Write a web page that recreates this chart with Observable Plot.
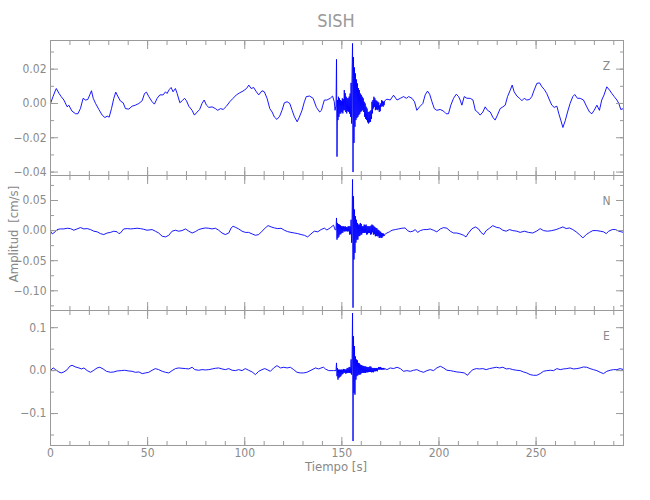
<!DOCTYPE html>
<html><head><meta charset="utf-8">
<script src="https://cdn.jsdelivr.net/npm/d3@7"></script>
<script src="https://cdn.jsdelivr.net/npm/@observablehq/plot@0.6"></script>
<style>
body{margin:0;background:#fff;}
#chart{position:relative;width:650px;height:500px;font-family:"Liberation Sans Narrow","DejaVu Sans Condensed","Liberation Sans",sans-serif;color:#888;overflow:hidden;}
#chart svg{position:absolute;left:0;overflow:visible;background:transparent;}
.lbl{position:absolute;white-space:nowrap;line-height:1;color:#888;}
</style></head><body><div id="chart"></div>
<script>
// ---------- data ----------
const title = "SISH";
const xLabel = "Tiempo [s]";
const yLabel = "Amplitud [cm/s]";
const channels = ["Z", "N", "E"];
const xMajor = [0, 50, 100, 150, 200, 250];
const xMinor = [0,10,20,30,40,50,60,70,80,90,100,110,120,130,140,150,160,170,180,190,200,210,220,230,240,250,260,270,280,290];

const zMajor = [-0.04, -0.02, 0, 0.02];
const zMinor = [-0.04, -0.03, -0.02, -0.01, 0, 0.01, 0.02, 0.03];
const nMajor = [-0.10, -0.05, 0, 0.05];
const nMinor = [-0.125, -0.10, -0.075, -0.05, -0.025, 0, 0.025, 0.05, 0.075];
const eMajor = [-0.1, 0, 0.1];
const eMinor = [-0.15, -0.1, -0.05, 0, 0.05, 0.1];

// quiet parts of each trace: [time s, amplitude cm/s]
const zQuiet = [[0,0],[1.3,0.004],[2.6,0.0078],[3.0,0.0087],[4.3,0.006],[5.5,0.004],[6.9,0.002],[8.6,-0.002],[9.4,-0.001],[11.1,-0.0045],[12.9,-0.006],[14.1,-0.006],[15.4,-0.003],[16.8,0.003],[18.0,0.002],[19.2,0.0023],[20.2,0.005],[21.1,0.0074],[22.0,0.003],[23.2,0],[24.9,-0.0035],[26.6,-0.0068],[28.0,-0.0082],[29.2,-0.0074],[30.2,-0.008],[31.4,-0.003],[32.6,0.003],[33.6,0.0066],[34.6,0.0043],[36.0,0.0014],[37.4,0.0004],[38.6,-0.003],[40.3,-0.0033],[42.0,-0.0016],[43.7,-0.001],[45.5,0],[47.2,0.0016],[48.4,0.0058],[49.4,0.0066],[50.6,0.004],[52.3,0.001],[53.5,-0.0004],[54.9,0.003],[56.3,0.005],[58.0,0.005],[59.2,0.0068],[60.0,0.0058],[61.2,0.0082],[62.1,0.0093],[63.1,0.0068],[64.3,0.0087],[65.2,0.0058],[66.6,0.0004],[67.8,0.0016],[69.0,0.003],[70.0,0.0016],[71.2,-0.0016],[72.9,-0.004],[74.1,-0.0068],[75.5,-0.005],[76.8,-0.0035],[78.0,0],[79.1,0.002],[80.3,-0.001],[81.5,-0.0023],[83.2,-0.002],[84.9,-0.003],[86.1,-0.004],[87.5,-0.003],[88.9,-0.0035],[90.6,-0.0016],[92.3,0.001],[94.0,0.003],[95.7,0.005],[97.4,0.0062],[99.1,0.0072],[100.9,0.0087],[102.1,0.0107],[103.3,0.0087],[104.6,0.0093],[106.0,0.0068],[107.2,0.005],[108.9,0.0074],[110.1,0.0068],[111.5,0.003],[112.9,-0.003],[114.1,-0.005],[115.3,-0.008],[116.6,-0.0093],[118.0,-0.0074],[119.2,-0.004],[120.4,0.0004],[121.8,0.001],[123.2,0],[124.4,-0.004],[125.6,-0.0078],[127.0,-0.0107],[128.1,-0.008],[129.5,-0.004],[130.7,0.001],[131.7,0.004],[133.4,0.0043],[135.2,0.003],[136.9,-0.0023],[138.6,-0.005],[139.5,-0.004],[140.2,-0.001],[141.0,0.002],[142.3,0.002],[144.0,0.003],[145.2,0.0043],[146.1,0.001],[146.5,-0.004],[146.8,-0.002],
[173.2,0.0025],[174.9,0.002],[176.6,0.0048],[178.4,0.002],[180.1,0.003],[181.8,0.004],[183.2,0.003],[184.4,0.004],[186.1,0.003],[187.4,0.001],[188.6,-0.004],[190.0,-0.002],[191.7,0],[192.9,0.005],[194.1,0.0072],[195.2,0.0054],[196.4,0.001],[197.6,-0.003],[198.9,-0.004],[200.6,-0.0035],[202.4,-0.0045],[203.7,-0.006],[204.9,-0.006],[206.1,-0.001],[207.5,0.003],[208.9,0.0054],[210.1,0.004],[210.9,0.002],[211.8,-0.001],[213.0,0.004],[214.4,0.003],[216.1,0.003],[217.5,0.002],[218.7,-0.004],[219.9,-0.005],[221.2,-0.0068],[222.6,-0.005],[223.8,-0.002],[225.0,-0.004],[226.4,-0.005],[227.7,-0.008],[228.9,-0.0097],[230.1,-0.0068],[231.5,-0.003],[232.9,-0.002],[234.1,-0.001],[235.3,0.004],[236.7,0.0078],[237.7,0.0107],[238.7,0.0068],[240.1,0.0043],[241.5,0.003],[242.7,0.0016],[243.9,0.003],[245.2,0.002],[246.6,0.0023],[247.8,0.004],[249.0,0.0078],[250.4,0.0117],[251.8,0.012],[253.0,0.0097],[254.2,0.0082],[255.5,0.0058],[256.9,0.002],[258.1,-0.001],[259.3,-0.0023],[260.7,-0.0016],[261.7,-0.006],[262.7,-0.0097],[263.8,-0.014],[265.0,-0.0101],[266.2,-0.005],[267.5,0],[268.9,0.004],[269.9,0.0052],[271.3,0.003],[272.7,0.003],[274.4,0.002],[276.1,-0.002],[277.5,-0.005],[278.7,-0.006],[279.9,-0.004],[281.3,-0.001],[282.6,-0.004],[283.8,0.002],[285.0,0.005],[286.4,0.0097],[287.8,0.0078],[289.0,0.0058],[290.2,0.004],[291.6,0.002],[292.6,0],[293.6,-0.0035],[295.0,-0.003]];

const nQuiet = [[0,-0.001],[0.9,-0.0055],[1.7,-0.004],[3.4,0.0017],[5.1,0.0028],[6.9,0.0028],[8.6,0.0039],[10.3,0.0033],[12.0,0.0006],[13.7,0.0028],[15.4,0.005],[17.2,0.0028],[18.9,0.0033],[20.6,0.0017],[22.3,-0.001],[24.0,-0.002],[25.7,-0.005],[27.4,-0.0066],[29.2,-0.004],[30.9,-0.003],[32.6,-0.001],[34.3,-0.002],[35.2,-0.005],[36.0,-0.004],[37.7,0.0028],[39.5,0.0033],[41.2,0.0028],[42.9,0.0033],[44.6,0.0039],[46.3,0.0033],[48.0,0.0022],[49.7,0.0006],[52.3,0.0017],[54.0,-0.001],[55.7,-0.004],[57.5,-0.0094],[59.2,-0.0105],[60.9,-0.0078],[62.6,-0.001],[64.3,0.0006],[66.0,-0.001],[67.7,0],[69.5,0.0028],[71.2,-0.001],[72.9,-0.004],[74.6,-0.0017],[76.3,0.0017],[78.0,0.0033],[79.8,0.0044],[81.5,0.0039],[83.2,0.0028],[84.9,0.0039],[86.6,0.0006],[88.3,-0.004],[90.0,-0.0066],[91.8,-0.004],[93.0,0.0044],[94.0,0.0072],[95.2,0.0055],[96.9,0.0028],[98.6,-0.001],[100.3,-0.003],[102.0,-0.003],[103.8,-0.0055],[105.5,-0.0078],[107.2,-0.0066],[108.9,-0.001],[110.6,0.0044],[112.0,0.0083],[113.6,0.0061],[115.3,0.0044],[117.0,0.0033],[118.7,0.0039],[120.4,0.0006],[122.1,-0.0017],[123.8,-0.003],[125.6,-0.004],[127.3,-0.005],[129.0,-0.0066],[130.7,-0.0078],[132.4,-0.0105],[134.1,-0.0055],[135.8,-0.001],[137.6,-0.002],[139.3,0.0017],[141.0,0.004],[142.3,0.001],[144.0,0.0045],[145.7,0.009],[146.6,0.001],
[173.2,-0.004],[174.5,-0.002],[175.8,0.0006],[177.5,0.0017],[179.2,0.0028],[180.9,0.0039],[182.6,0.0044],[183.8,0],[185.2,-0.002],[186.6,-0.001],[187.8,0.0017],[189.0,-0.003],[190.4,0],[192.1,0.0017],[193.8,0.0017],[195.5,0.0028],[197.2,0.0006],[198.9,-0.002],[200.7,0.0028],[202.4,0.005],[204.1,0.0039],[205.8,-0.001],[207.5,-0.004],[209.2,-0.004],[210.9,-0.0055],[212.7,-0.0078],[213.9,-0.0105],[215.2,-0.004],[216.9,0.0028],[218.7,0.0061],[220.4,0.0028],[221.6,-0.003],[223.0,-0.0066],[224.3,0],[226.0,0.0039],[227.7,0.0083],[229.5,0.0055],[231.2,0.0044],[232.9,0.0006],[234.6,-0.001],[236.3,0.0017],[238.0,0],[240.1,-0.001],[241.8,-0.003],[243.9,-0.001],[246.1,-0.003],[248.3,-0.004],[250.4,-0.0006],[252.1,0.0033],[253.8,0],[255.9,-0.001],[258.1,0],[260.3,0.0017],[262.1,0.0039],[263.8,0.0061],[265.5,0.0033],[267.2,0.0044],[268.9,0.0017],[270.6,-0.002],[272.3,-0.0066],[274.1,-0.0122],[275.8,-0.0066],[277.5,-0.003],[279.2,0],[281.3,0],[283.0,-0.001],[284.7,-0.002],[286.1,-0.005],[287.4,-0.001],[289.2,0.0017],[290.9,0.0017],[292.6,-0.001],[295.0,-0.003]];

const eQuiet = [[0,0.0008],[1.4,0.0062],[2.6,0.0023],[4.3,-0.0031],[5.5,-0.0054],[6.9,-0.0031],[8.6,0.0023],[9.9,0.0101],[11.1,0.0124],[12.9,0.0085],[14.6,0.0062],[16.0,0.0039],[17.2,0.0062],[18.9,0],[20.6,-0.0039],[22.3,0.0008],[24.0,0.0062],[25.4,0.0078],[27.1,0.0039],[28.8,-0.0016],[30.9,-0.0039],[32.6,-0.0031],[34.3,-0.0008],[36.4,0],[38.1,0.0008],[40.3,-0.0008],[42.0,-0.0016],[43.7,-0.0039],[45.5,-0.0031],[47.2,-0.007],[48.9,-0.0054],[50.6,-0.0039],[52.3,0.0008],[54.0,0.0047],[55.7,0.0023],[57.5,-0.0016],[59.2,-0.0039],[60.9,-0.0054],[62.6,0],[64.3,0.0047],[66.0,0.0062],[67.7,0.0054],[69.5,0.0047],[71.2,0.0039],[72.9,0.0078],[74.3,0.0023],[76.3,0.0008],[78.0,0.0023],[79.8,0.0016],[81.5,0.0023],[83.2,0.0039],[84.9,0.0054],[86.6,0.0062],[88.3,0.0039],[90.0,0.0023],[91.8,0.0047],[93.5,0.0008],[95.2,0],[96.9,0.0023],[98.6,0],[100.3,0.0047],[102.0,0.0008],[103.8,-0.0031],[105.5,-0.0093],[107.2,-0.0016],[108.9,0.0023],[110.3,0.0047],[111.5,0.0023],[113.2,-0.0016],[114.9,0.0062],[116.6,0.0116],[118.4,0.0062],[120.1,0.0078],[121.8,0.0062],[123.5,0.0078],[125.2,0.0023],[126.9,-0.0039],[128.6,-0.0054],[130.3,-0.0054],[132.0,-0.0039],[134.1,0.0008],[136.4,0.0062],[138.1,0.0039],[139.8,0.007],[140.6,0.0078],[141.5,0.0039],[143.2,0],[145.7,0],
[173.2,0.0023],[174.9,0.0062],[176.6,0.0047],[178.4,0.0078],[180.1,0.0047],[181.8,-0.0016],[183.5,0],[185.2,-0.0016],[186.9,0.0008],[188.6,0.0023],[190.4,-0.0016],[192.1,-0.0039],[193.8,0],[195.5,0.0023],[197.2,0],[198.9,0.0062],[200.7,0.0101],[202.4,0.0062],[204.1,0.0008],[205.8,0],[207.5,-0.0016],[209.2,-0.0031],[210.9,-0.0039],[213.0,-0.0054],[214.7,-0.0109],[216.1,-0.0031],[217.5,0.0023],[219.2,0.0047],[220.9,0.0039],[222.6,0.0047],[224.3,0.0023],[226.0,0.0047],[227.7,0.0062],[229.5,0.0078],[231.2,0.0062],[232.9,0.0078],[234.6,0.0039],[236.3,0.0047],[238.0,0.0023],[240.1,0.0008],[241.8,0],[243.5,-0.0031],[245.2,-0.0054],[246.9,-0.0093],[248.7,-0.0109],[250.4,-0.0109],[252.1,-0.007],[253.8,-0.0016],[255.5,0],[257.3,0.0008],[259.0,0],[260.7,0.0047],[262.4,0.0023],[264.1,0.0039],[265.8,0.0047],[267.5,0.0062],[269.3,0.0039],[271.0,0.0047],[272.7,0.0062],[274.4,0.0085],[276.1,0.0078],[277.8,0.0047],[279.5,0.0023],[281.3,0],[283.0,-0.0039],[284.7,-0.007],[286.4,-0.0016],[288.1,0.0008],[289.8,0.0023],[291.6,0.0023],[293.3,0.0047],[295.0,0.0023]];

// event section, sampled every 0.25 s from 147.0 s to 172.0 s
const eventStart = 147.0;
const eventStep = 0.25;
const zEvent = [-0.002,0.0257,-0.031,0.002,-0.0097,0.0039,-0.0078,0.003,-0.006,0.002,-0.0058,0.0015,-0.005,0.003,-0.0058,0.0025,-0.004,0.0078,-0.0039,0.006,-0.005,0.0039,-0.0058,0.003,-0.0045,0.003,-0.0049,0.004,-0.006,0.0058,-0.0078,0.012,-0.0117,0.0175,0.035,-0.040,0.027,-0.023,0.021,-0.0136,0.0175,-0.0097,0.014,-0.0085,0.0117,-0.0078,0.009,-0.0068,0.0078,-0.006,0.0058,-0.0049,0.005,-0.0045,0.0039,-0.0039,0.003,-0.005,0.001,-0.0078,0,-0.009,-0.0019,-0.0097,-0.003,-0.011,-0.0049,-0.0117,-0.005,-0.011,-0.0045,-0.0107,-0.0039,-0.009,0.001,-0.0058,0.002,-0.0029,0.0039,-0.002,0.003,-0.0039,0.0019,-0.0035,0.0015,-0.0039,0.001,-0.0035,0.0005,-0.0049,-0.001,-0.0045,0,-0.0019,0.0019,-0.0015,0.0015,-0.0019,0.001,-0.001,0.0015];
const nEvent = [0.0017,0.021,-0.015,0.0127,-0.0122,0.011,-0.01,0.01,-0.0066,0.009,-0.006,0.0072,-0.0039,0.007,-0.0035,0.0072,-0.0011,0.0065,-0.0015,0.0072,-0.0011,0.006,-0.001,0.0055,-0.0015,0.0072,-0.0011,0.0072,-0.0066,0.007,-0.006,0.018,-0.02,0.015,0.085,-0.128,0.057,-0.048,0.035,-0.037,0.024,-0.02,0.018,-0.015,0.0127,-0.015,0.01,-0.0094,0.01,-0.009,0.0127,-0.0066,0.011,-0.0066,0.0072,-0.0039,0.0072,-0.0039,0.01,-0.0039,0.009,-0.0035,0.01,-0.0066,0.0072,-0.006,0.0072,-0.0039,0.0072,-0.004,0.007,-0.0066,0.0083,-0.006,0.01,-0.0028,0.009,-0.0066,0.0072,-0.006,0.006,-0.0094,0.0044,-0.009,0.004,-0.0094,0.0017,-0.0094,0.001,-0.0122,-0.0011,-0.0115,-0.002,-0.0122,-0.0039,-0.0115,-0.0045,-0.0094,-0.005,-0.009,-0.0066];
const eEvent = [0,0.018,-0.013,0.006,-0.021,0.0023,-0.017,0.0023,-0.015,0.002,-0.013,0.0023,-0.0093,0.002,-0.008,0.0039,-0.0054,0.0035,-0.005,0.0023,-0.007,0.003,-0.006,0.0062,-0.0054,0.0055,-0.005,0.0085,-0.0054,0.008,-0.006,0.026,-0.0093,0.02,0.134,-0.164,0.08,-0.052,0.057,-0.056,0.033,-0.021,0.026,-0.013,0.024,-0.011,0.018,-0.0093,0.017,-0.0093,0.014,-0.0085,0.013,-0.0054,0.0116,-0.0054,0.011,-0.0054,0.01,-0.005,0.01,-0.0054,0.009,-0.0039,0.0085,-0.0039,0.008,-0.0035,0.0085,-0.003,0.01,-0.003,0.009,-0.0039,0.0062,-0.0035,0.0062,-0.0039,0.006,-0.0016,0.0062,-0.0016,0.006,-0.001,0.0062,-0.0016,0.0055,0.0023,0.0085,0.0023,0.008,0.0025,0.0085,0.0023,0.0062,0.0023,0.006,0.0025,0.0062,0.0023,0.005];

// ---------- drawing ----------
const ink = "#8a8a8a", frameInk = "#9a9a9a", trace = "#0000ff";
const chart = document.getElementById("chart");

function traceRows(quiet, event) {
  const tEnd = eventStart + (event.length - 1) * eventStep;
  return [
    ...quiet.filter(([t]) => t < eventStart).map(([t, v]) => ({t, v})),
    ...event.map((v, i) => ({t: eventStart + i * eventStep, v})),
    ...quiet.filter(([t]) => t > tEnd).map(([t, v]) => ({t, v}))
  ];
}

const panels = [
  {name: channels[0], rows: traceRows(zQuiet, zEvent), domain: [-0.042, 0.0367], major: zMajor, minor: zMinor, fmt: ".2f", top: 40},
  {name: channels[1], rows: traceRows(nQuiet, nEvent), domain: [-0.1327, 0.0915], major: nMajor, minor: nMinor, fmt: ".2f", top: 175},
  {name: channels[2], rows: traceRows(eQuiet, eEvent), domain: [-0.1744, 0.140], major: eMajor, minor: eMinor, fmt: ".1f", top: 310, bottom: true}
];

for (const p of panels) {
  const mt = 10, mb = p.bottom ? 45 : 10;
  const marks = [
    Plot.line(p.rows, {x: "t", y: "v", stroke: trace, strokeWidth: 1, strokeOpacity: 0.9}),
    Plot.frame({stroke: frameInk}),
    Plot.axisX(xMinor, {anchor: "top", tickSize: -4, stroke: frameInk, fill: "none", label: null}),
    Plot.axisX(xMajor, {anchor: "top", tickSize: -8, stroke: frameInk, fill: "none", label: null}),
    Plot.axisX(xMinor, {anchor: "bottom", tickSize: -4, stroke: frameInk, fill: "none", label: null}),
    Plot.axisX(xMajor, {anchor: "bottom", tickSize: -8, stroke: frameInk, fill: "none", label: null}),
    Plot.axisY(p.minor, {anchor: "left", tickSize: -4, stroke: frameInk, fill: "none", label: null}),
    Plot.axisY(p.major, {anchor: "left", tickSize: -8, stroke: frameInk, fill: "none", label: null}),
    Plot.axisY(p.minor, {anchor: "right", tickSize: -4, stroke: frameInk, fill: "none", label: null}),
    Plot.axisY(p.major, {anchor: "right", tickSize: -8, stroke: frameInk, fill: "none", label: null}),
    Plot.axisY(p.major, {anchor: "left", tickSize: 0, tickPadding: 4, tickFormat: d3.format(p.fmt), fill: ink, label: null, fontSize: 12}),
    Plot.text([p.name], {frameAnchor: "top-right", dx: -17, dy: 21, fill: ink, fontSize: 12, textAnchor: "middle"})
  ];
  if (p.bottom) {
    marks.push(Plot.axisX(xMajor, {anchor: "bottom", tickSize: 0, tickPadding: 3, tickFormat: d => String(d), fill: ink, label: null, fontSize: 12}));
  }
  const svg = Plot.plot({
    width: 650,
    height: 135 + mt + mb,
    marginLeft: 50, marginRight: 27, marginTop: mt, marginBottom: mb,
    x: {domain: [0, 295], axis: null},
    y: {domain: p.domain, axis: null},
    style: {background: "transparent", overflow: "visible", fontFamily: '"Liberation Sans Narrow","DejaVu Sans Condensed","Liberation Sans",sans-serif', fontSize: "12px", color: ink},
    marks
  });
  svg.style.top = (p.top - mt) + "px";
  chart.appendChild(svg);
}

function addLabel(text, css) {
  const d = document.createElement("div");
  d.className = "lbl";
  d.textContent = text;
  Object.assign(d.style, css);
  chart.appendChild(d);
}
addLabel(title, {left: "336px", top: "12px", fontSize: "18px", fontWeight: "300", color: "#999", transform: "translateX(-50%)"});
addLabel(xLabel, {left: "336px", top: "460px", fontSize: "13px", transform: "translateX(-50%)"});
addLabel(yLabel, {left: "13px", top: "234px", fontSize: "13px", wordSpacing: "3px", transform: "translate(-50%,-50%) rotate(-90deg)"});
</script></body></html>
